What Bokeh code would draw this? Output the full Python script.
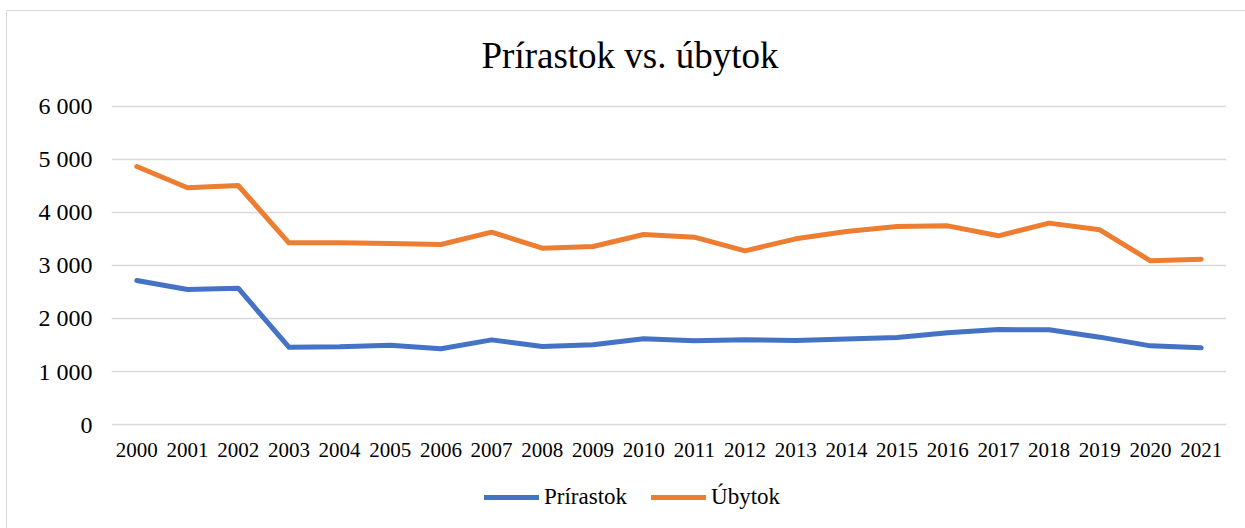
from bokeh.plotting import figure
from bokeh.models import (FactorRange, Range1d, FixedTicker, Legend, LegendItem,
                          Label, CategoricalAxis)
from bokeh.embed import file_html
from bokeh.resources import INLINE

# Annual values
years = [str(y) for y in range(2000, 2022)]
prirastok = [2717, 2547, 2572, 1459, 1465, 1497, 1428, 1597, 1472, 1503, 1616,
             1579, 1597, 1585, 1615, 1642, 1730, 1792, 1786, 1648, 1484, 1447]
ubytok = [4868, 4466, 4509, 3428, 3430, 3416, 3396, 3629, 3327, 3358, 3585,
          3535, 3277, 3503, 3640, 3736, 3748, 3560, 3799, 3673, 3088, 3119]

y_ticks = [0, 1000, 2000, 3000, 4000, 5000, 6000]
y_tick_labels = ["0", "1 000", "2 000", "3 000", "4 000", "5 000", "6 000"]

title_text = "Prírastok vs. úbytok"
series_names = ["Prírastok", "Úbytok"]

BLUE = "#4472C4"
ORANGE = "#ED7D31"
GRID = "#D9D9D9"
FONT = "Liberation Serif"

# canvas sits inside a thin chart-area outline
OFF_X, OFF_Y = 7, 11
W, H = 1245 - OFF_X, 528 - OFF_Y
FL, FR = 104, 1219

# the frame spans the full canvas height; the value axis keeps
# 0..6000 between the title area and the category labels
Y_MIN, Y_MAX = -1962, 7792

p = figure(x_range=FactorRange(*years, range_padding=0),
           y_range=Range1d(Y_MIN, Y_MAX),
           width=W, height=H, output_backend="svg", toolbar_location=None,
           x_axis_location=None,
           min_border_left=FL, min_border_right=W - FR,
           min_border_top=0, min_border_bottom=0,
           margin=(OFF_Y, 0, 0, OFF_X),
           styles={"outline": "1px solid " + GRID})
p.outline_line_color = None
p.background_fill_color = "white"
p.border_fill_color = "white"

# y axis
p.yaxis.ticker = FixedTicker(ticks=y_ticks)
p.yaxis.major_label_overrides = {t: s for t, s in zip(y_ticks, y_tick_labels)}
p.yaxis.axis_line_color = None
p.yaxis.major_tick_line_color = None
p.yaxis.minor_tick_line_color = None
p.yaxis.major_label_text_font = FONT
p.yaxis.major_label_text_font_size = "24px"
p.yaxis.major_label_text_color = "black"
p.yaxis.major_label_standoff = 13

# category axis pinned at zero
xaxis = CategoricalAxis(fixed_location=0)
xaxis.axis_line_color = None
xaxis.major_tick_line_color = None
xaxis.major_label_text_font = FONT
xaxis.major_label_text_font_size = "21px"
xaxis.major_label_text_color = "black"
xaxis.major_label_standoff = 12
p.add_layout(xaxis, "below")

p.xgrid.grid_line_color = None
p.ygrid.ticker = FixedTicker(ticks=y_ticks)
p.ygrid.grid_line_color = GRID
p.ygrid.grid_line_width = 1.3

r1 = p.line(years, prirastok, line_color=BLUE, line_width=5,
            line_cap="round", line_join="round")
r2 = p.line(years, ubytok, line_color=ORANGE, line_width=5,
            line_cap="round", line_join="round")

legend = Legend(items=[LegendItem(label=series_names[0], renderers=[r1]),
                       LegendItem(label=series_names[1], renderers=[r2])],
                orientation="horizontal", location=(373, 18),
                padding=0, margin=0, spacing=24, label_standoff=5,
                glyph_width=55, glyph_height=24, label_height=24,
                label_text_font=FONT, label_text_font_size="23px",
                label_text_color="black", border_line_color=None,
                background_fill_alpha=0)
p.add_layout(legend)

# chart title
p.add_layout(Label(x=518.5, y=473, x_units="screen", y_units="screen",
                   text=title_text, text_font=FONT, text_font_size="37px",
                   text_align="center", text_baseline="middle",
                   text_color="black"))

open("out.html", "w").write(file_html(p, INLINE))
